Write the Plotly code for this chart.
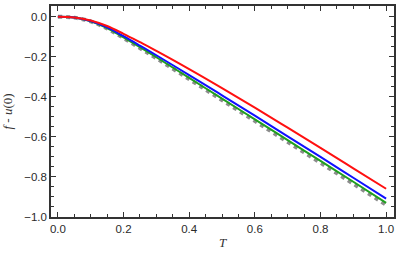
import plotly.graph_objects as go

T = [0.0, 0.05, 0.1, 0.15, 0.2, 0.25, 0.3, 0.4, 0.5, 0.6, 0.7, 0.8, 0.9, 1.0]
red = [0.0, -0.003, -0.018, -0.046, -0.085, -0.127, -0.170, -0.261, -0.356, -0.454, -0.554, -0.655, -0.757, -0.859]
blue = [0.0, -0.004, -0.021, -0.053, -0.097, -0.144, -0.192, -0.291, -0.392, -0.494, -0.597, -0.700, -0.804, -0.908]
green = [0.0, -0.004, -0.022, -0.056, -0.103, -0.152, -0.202, -0.305, -0.409, -0.512, -0.616, -0.720, -0.824, -0.929]
gray = [0.0, -0.004, -0.023, -0.058, -0.106, -0.156, -0.207, -0.311, -0.416, -0.520, -0.625, -0.729, -0.834, -0.939]

fig = go.Figure()
fig.add_trace(go.Scatter(x=T, y=gray, mode="lines", line=dict(color="#8c8c8c", width=4, dash="dot", shape="spline")))
fig.add_trace(go.Scatter(x=T, y=green, mode="lines", line=dict(color="#1fa01f", width=2, shape="spline")))
fig.add_trace(go.Scatter(x=T, y=blue, mode="lines", line=dict(color="#1010ff", width=2, shape="spline")))
fig.add_trace(go.Scatter(x=T, y=red, mode="lines", line=dict(color="#ff1010", width=2, shape="spline")))

axis_common = dict(
    showgrid=False, zeroline=False, showline=True, linecolor="#333333", linewidth=1.5,
    mirror="allticks", ticks="inside", ticklen=5, tickwidth=1, tickcolor="#333333",
    tickfont=dict(family="Liberation Sans, Arial", size=11.5, color="#2a2a2a"),
    minor=dict(ticks="inside", ticklen=3, tickcolor="#333333", dtick=0.05, showgrid=False),
)

fig.update_layout(
    width=400, height=258,
    margin=dict(l=51, r=4, t=4, b=41),
    paper_bgcolor="white", plot_bgcolor="white",
    showlegend=False,
    xaxis=dict(range=[-0.021, 1.024], dtick=0.2, tickformat=".1f",
               title=dict(text="<i>T</i>", font=dict(family="Liberation Serif, Times New Roman", size=13, color="#333333"), standoff=4),
               **axis_common),
    yaxis=dict(range=[-1.0, 0.054], dtick=0.2, tickformat=".1f",
               title=dict(text="<i>f</i> - <i>u</i>(0)", font=dict(family="Liberation Serif, Times New Roman", size=13, color="#333333"), standoff=9),
               **axis_common),
)

fig.write_html("out.html", config={"displayModeBar": False},
               post_script="document.body.style.margin='0';")
